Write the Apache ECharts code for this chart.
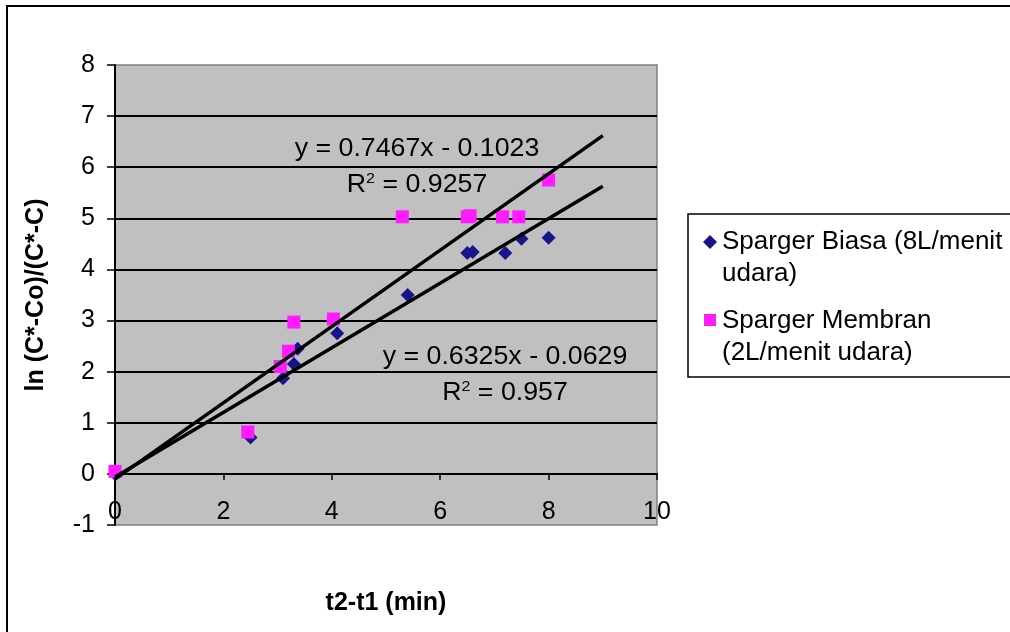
<!DOCTYPE html>
<html>
<head>
<meta charset="utf-8">
<script src="https://cdn.jsdelivr.net/npm/echarts@6/dist/echarts.min.js"></script>
<style>
html, body { margin: 0; padding: 0; background: #fff; }
#chart { width: 1010px; height: 632px; }
</style>
</head>
<body>
<div id="chart"></div>
<script>
// Sparger Biasa (8L/menit udara)
var biasaX = [0, 2.5, 3.1, 3.3, 3.37, 4.1, 5.4, 6.5, 6.6, 7.2, 7.5, 8];
var biasaY = [0, 0.71, 1.87, 2.15, 2.45, 2.75, 3.5, 4.32, 4.34, 4.32, 4.6, 4.62];
// Sparger Membran (2L/menit udara)
var membranX = [0, 2.45, 3.05, 3.2, 3.3, 4.03, 5.3, 6.5, 6.55, 7.15, 7.45, 8];
var membranY = [0.05, 0.82, 2.1, 2.4, 2.97, 3.03, 5.03, 5.03, 5.05, 5.03, 5.03, 5.75];
// trendline (linear): biasa, membran
var trendSlope = [0.6325, 0.7467];
var trendIntercept = [-0.0629, -0.1023];
var trendR2 = ['0.957', '0.9257'];
var trendFrom = 0;
var trendTo = 9;

var nameBiasa = 'Sparger Biasa (8L/menit\nudara)';
var nameMembran = 'Sparger Membran\n(2L/menit udara)';
var font = "'Liberation Sans', Arial, sans-serif";

function pairs(xs, ys) {
    return xs.map(function (x, i) { return [x, ys[i]]; });
}
function trendLine(k) {
    return [
        [trendFrom, trendSlope[k] * trendFrom + trendIntercept[k]],
        [trendTo, trendSlope[k] * trendTo + trendIntercept[k]]
    ];
}
function eqText(k) {
    var b = trendIntercept[k];
    return 'y = ' + trendSlope[k] + 'x ' + (b < 0 ? '- ' : '+ ') + Math.abs(b) +
        '\nR{sup|2} = ' + trendR2[k];
}
function eqLabel(k, x, y) {
    return {
        type: 'text',
        x: x,
        y: y,
        scaleX: 1.07,
        z: 100,
        silent: true,
        style: {
            text: eqText(k),
            align: 'center',
            verticalAlign: 'top',
            font: '25px ' + font,
            fill: '#000',
            lineHeight: 36,
            rich: { sup: { fontSize: 15, padding: [0, 0, 12, 0], fontFamily: font } }
        }
    };
}

var myChart = echarts.init(document.getElementById('chart'));

var option = {
    animation: false,
    backgroundColor: '#fff',
    textStyle: { fontFamily: font },
    grid: {
        left: 115,
        top: 65,
        width: 542,
        height: 460,
        outerBoundsMode: 'none',
        containLabel: false,
        show: true,
        backgroundColor: '#c0c0c0',
        borderColor: '#808080',
        borderWidth: 1.5
    },
    xAxis: {
        type: 'value',
        min: 0,
        max: 10,
        interval: 2,
        name: 't2-t1 (min)',
        nameLocation: 'middle',
        nameGap: 66,
        nameTextStyle: { fontSize: 25, fontWeight: 'bold', color: '#000', fontFamily: font },
        axisLine: { onZero: true, lineStyle: { color: '#000', width: 2 } },
        axisTick: { show: true, length: 6, lineStyle: { color: '#000', width: 1.5 } },
        axisLabel: { fontSize: 25, color: '#000', margin: -25, fontFamily: font },
        splitLine: { show: false }
    },
    yAxis: {
        type: 'value',
        min: -1,
        max: 8,
        interval: 1,
        name: 'ln (C*-Co)/(C*-C)',
        nameLocation: 'middle',
        nameGap: 66,
        nameTextStyle: { fontSize: 25, fontWeight: 'bold', color: '#000', fontFamily: font },
        axisLine: { show: true, onZero: false, lineStyle: { color: '#000', width: 2 } },
        axisTick: { show: true, length: 8, lineStyle: { color: '#000', width: 1.5 } },
        axisLabel: { fontSize: 25, color: '#000', margin: 20, fontFamily: font },
        splitLine: {
            show: true,
            showMinLine: false,
            showMaxLine: false,
            lineStyle: { color: '#000', width: 2 }
        }
    },
    legend: {
        orient: 'vertical',
        left: 688,
        top: 214,
        padding: [12, 60, 8, 15],
        itemGap: 15,
        itemWidth: 14,
        itemHeight: 64,
        borderColor: '#000',
        borderWidth: 1.5,
        backgroundColor: '#fff',
        textStyle: { fontSize: 26, lineHeight: 32, color: '#000', fontFamily: font },
        data: [
            { name: nameBiasa, icon: 'path://M7,9L14,16L7,23L0,16Z M0,0 M14,64' },
            { name: nameMembran, icon: 'path://M1,9L13,9L13,21L1,21Z M0,0 M14,64' }
        ]
    },
    graphic: [
        {
            type: 'rect',
            z: -10,
            silent: true,
            shape: { x: 7, y: 6, width: 1100, height: 700 },
            style: { fill: null, stroke: '#000', lineWidth: 2 }
        },
        eqLabel(1, 417, 131),
        eqLabel(0, 505, 339)
    ],
    series: [
        {
            name: nameBiasa,
            type: 'scatter',
            symbol: 'diamond',
            symbolSize: 14,
            itemStyle: { color: '#16168a', opacity: 1 },
            data: pairs(biasaX, biasaY),
            z: 3
        },
        {
            name: nameMembran,
            type: 'scatter',
            symbol: 'rect',
            symbolSize: 13,
            itemStyle: { color: '#ff1aff', opacity: 1 },
            data: pairs(membranX, membranY),
            z: 4
        },
        {
            name: 'trend biasa',
            type: 'line',
            showSymbol: false,
            symbol: 'none',
            lineStyle: { color: '#000', width: 3.5 },
            data: trendLine(0),
            z: 5
        },
        {
            name: 'trend membran',
            type: 'line',
            showSymbol: false,
            symbol: 'none',
            lineStyle: { color: '#000', width: 3.5 },
            data: trendLine(1),
            z: 5
        }
    ]
};

myChart.setOption(option);
</script>
</body>
</html>
